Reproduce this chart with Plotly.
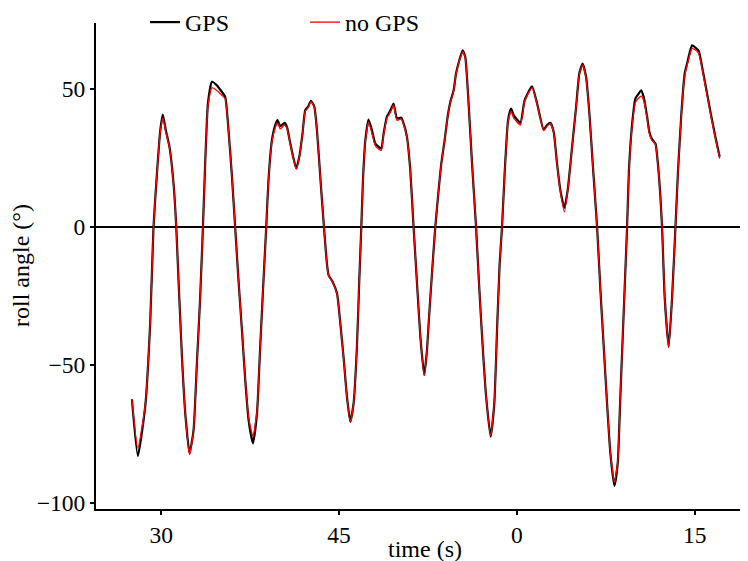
import plotly.graph_objects as go

# time (s), continuous; tick labels wrap at 60 s
time_s = [27.53, 28.03, 28.65, 29.07, 29.35, 29.64, 29.92, 30.14, 30.39, 30.70,
          31.04, 31.27, 31.46, 31.75, 32.03, 32.39, 32.73, 33.01, 33.29, 33.52,
          33.71, 33.94, 34.28, 34.70, 35.12, 35.40, 35.68, 35.97, 36.24, 36.52,
          36.81, 37.09, 37.37, 37.74, 38.08, 38.35, 38.63, 38.86, 39.05, 39.34,
          39.62, 39.81, 40.04, 40.41, 40.61, 40.89, 41.16, 41.39, 41.65, 41.92,
          42.15, 42.38, 42.63, 42.91, 43.14, 43.42, 43.73, 43.98, 44.12, 44.46,
          44.83, 45.11, 45.38, 45.67, 45.95, 46.23, 46.51, 46.71, 46.88, 47.02,
          47.22, 47.49, 47.78, 48.06, 48.34, 48.57, 48.76, 49.05, 49.27, 49.41,
          49.60, 49.89, 50.25, 50.45, 50.73, 51.01, 51.29, 51.58, 51.86, 52.19,
          52.42, 52.56, 52.84, 53.12, 53.35, 53.63, 53.91, 54.16, 54.39, 54.67,
          54.87, 55.15, 55.43, 55.65, 55.93, 56.22, 56.56, 56.84, 57.12, 57.41,
          57.79, 58.10, 58.33, 58.55, 58.75, 58.97, 59.26, 59.51, 59.73, 60.30,
          60.66, 61.28, 61.71, 62.26, 62.55, 62.83, 63.11, 63.39, 63.67, 64.01,
          64.29, 64.66, 65.00, 65.27, 65.55, 65.84, 66.12, 66.40, 66.77, 67.05,
          67.33, 67.61, 67.89, 68.23, 68.51, 68.73, 69.01, 69.30, 69.45, 69.73,
          70.00, 70.28, 70.48, 70.70, 70.99, 71.18, 71.41, 71.69, 71.97, 72.25,
          72.47, 72.81, 73.10, 73.38, 73.60, 73.88, 74.16, 74.36, 74.56, 74.78,
          75.06, 75.34, 75.68, 76.05, 76.41, 76.75, 77.11]

roll_gps = [-62.4, -83.0, -65.1, -34.9, 0.0, 19.4, 35.1, 40.8, 35.1, 29.1,
            15.8, 0.0, -19.2, -47.0, -67.5, -82.0, -73.6, -49.4, -25.2, 0.0,
            23.1, 44.8, 52.7, 51.4, 49.0, 47.2, 35.1, 18.2, 0.0, -19.2,
            -37.3, -55.4, -69.9, -78.4, -67.5, -43.4, -19.2, 0.0, 17.0, 31.5,
            37.0, 38.8, 36.6, 37.8, 36.3, 30.3, 24.9, 21.3, 25.5, 33.9,
            42.4, 43.6, 45.8, 43.8, 35.1, 18.2, 0.0, -13.2, -17.4, -19.8,
            -24.0, -34.9, -47.0, -61.5, -70.5, -63.9, -43.4, -19.2, 0.0, 17.0,
            31.5, 39.0, 35.1, 30.3, 29.1, 28.5, 33.9, 40.2, 41.8, 43.0,
            44.8, 39.4, 39.7, 37.6, 32.7, 20.7, 0.0, -20.4, -39.7, -53.6,
            -44.6, -34.9, -16.8, 0.0, 11.0, 23.1, 31.5, 40.0, 45.4, 49.6,
            55.7, 60.5, 64.1, 61.7, 44.8, 23.1, 0.0, -22.8, -43.4, -61.5,
            -76.0, -63.9, -37.3, -13.2, 0.0, 19.4, 38.8, 43.0, 40.6, 37.8,
            46.0, 51.0, 44.8, 35.4, 37.0, 37.8, 34.5, 23.1, 13.4, 7.0,
            13.4, 29.1, 43.6, 55.7, 59.3, 54.5, 41.2, 23.1, 0.0, -22.8,
            -43.4, -63.9, -82.0, -93.8, -85.6, -61.5, -31.3, 0.0, 20.0, 37.6,
            46.6, 48.4, 49.6, 47.2, 40.0, 34.5, 31.8, 30.3, 19.4, 0.0,
            -25.2, -43.4, -25.2, 0.0, 20.7, 41.2, 55.7, 59.3, 62.9, 65.9,
            65.1, 63.9, 56.9, 48.4, 40.0, 32.7, 25.5]

roll_no_gps = [-62.4, -80.2, -64.6, -34.9, 0.0, 19.2, 34.6, 39.6, 34.5, 28.7,
               15.6, 0.0, -19.2, -47.0, -67.8, -82.5, -73.8, -49.4, -25.2, 0.0,
               22.8, 43.8, 50.6, 49.5, 47.8, 46.5, 35.0, 18.2, 0.0, -19.2,
               -37.3, -55.0, -69.0, -76.0, -66.8, -43.4, -19.2, 0.0, 16.8, 31.0,
               36.0, 37.8, 35.6, 37.0, 35.8, 30.0, 24.7, 21.0, 25.3, 33.6,
               42.0, 43.2, 45.5, 43.5, 35.0, 18.2, 0.0, -13.4, -17.6, -20.0,
               -24.2, -35.0, -47.2, -61.8, -70.8, -64.0, -43.4, -19.2, 0.0, 16.8,
               31.0, 38.0, 34.0, 29.5, 28.3, 27.8, 33.4, 39.6, 41.2, 42.3,
               44.3, 38.7, 39.2, 37.2, 32.4, 20.6, 0.0, -20.4, -39.7, -53.8,
               -44.6, -34.9, -16.8, 0.0, 11.0, 23.0, 31.3, 39.8, 45.2, 49.3,
               55.5, 60.3, 63.6, 61.4, 44.6, 23.0, 0.0, -22.8, -43.4, -61.5,
               -75.6, -63.7, -37.3, -13.2, 0.0, 19.2, 38.3, 42.0, 39.6, 37.0,
               45.6, 50.6, 44.6, 35.0, 36.6, 37.5, 34.2, 22.8, 13.0, 5.5,
               13.0, 28.8, 43.4, 55.4, 58.8, 54.2, 41.0, 23.0, 0.0, -22.8,
               -43.4, -63.9, -81.8, -92.5, -85.0, -61.3, -31.3, 0.0, 19.6, 36.8,
               45.2, 46.8, 47.5, 46.0, 39.4, 34.0, 31.4, 30.0, 19.2, 0.0,
               -25.2, -43.6, -25.2, 0.0, 20.5, 40.8, 55.0, 58.6, 62.0, 64.8,
               64.2, 63.0, 56.3, 47.8, 39.5, 32.2, 24.8]

x_tickvals = [30, 45, 60, 75]
x_ticktext = ["30", "45", "0", "15"]
y_tickvals = [-100, -50, 0, 50]
y_ticktext = ["\u2212100", "\u221250", "0", "50"]

FONT = "Liberation Serif, Times New Roman, serif"

# The page body has an 8px margin, so figure coordinates = screen coordinates - 8.
OFF = 8
W, H = 748 - OFF, 561 - OFF
L, R, T, B = 96 - OFF, 0, 0, H - (509 - OFF)
PH = H - T - B          # paper height
PW = W - L - R          # paper width
AXIS_TOP = 23 - OFF     # y axis starts here (figure px)

def px_x(sx):
    return (sx - OFF - L) / PW

def px_y(sy):
    return (PH - (sy - OFF)) / PH

fig = go.Figure()
fig.add_trace(go.Scatter(x=time_s, y=roll_gps, mode="lines", name="GPS",
                         line=dict(color="black", width=2.2, shape="spline", smoothing=0.5)))
fig.add_trace(go.Scatter(x=time_s, y=roll_no_gps, mode="lines", name="no GPS",
                         line=dict(color="#ff0000", width=1.3, shape="spline", smoothing=0.5)))

fig.update_layout(
    width=W, height=H,
    margin=dict(l=L, r=R, t=T, b=B, autoexpand=False),
    paper_bgcolor="white", plot_bgcolor="white",
    font=dict(family=FONT, size=24, color="black"),
    showlegend=True,
    legend=dict(orientation="h", x=px_x(145), y=1.0 + 8 / PH,
                xanchor="left", yanchor="top",
                entrywidth=115, entrywidthmode="pixels",
                font=dict(family=FONT, size=24, color="black"),
                bgcolor="rgba(0,0,0,0)", itemwidth=30, borderwidth=0),
    xaxis=dict(range=[24.5, 79.5], tickmode="array", tickvals=x_tickvals,
               ticktext=x_ticktext, showgrid=False, zeroline=False,
               showline=True, linecolor="black", linewidth=2,
               ticks="outside", ticklen=4, tickwidth=2, tickcolor="black",
               automargin=False,
               tickfont=dict(family=FONT, size=23.5, color="black")),
    yaxis=dict(range=[-102.2, 74], domain=[0, (PH - AXIS_TOP) / PH],
               tickmode="array", tickvals=y_tickvals,
               ticktext=y_ticktext, showgrid=False,
               zeroline=True, zerolinecolor="black", zerolinewidth=2,
               showline=True, linecolor="black", linewidth=2,
               ticks="outside", ticklen=4, tickwidth=2, tickcolor="black",
               automargin=False,
               tickfont=dict(family=FONT, size=23.5, color="black")),
    annotations=[
        dict(text="time (s)", xref="paper", yref="paper", x=px_x(425),
             y=px_y(549), xanchor="center", yanchor="middle", showarrow=False,
             font=dict(family=FONT, size=24, color="black")),
        dict(text="roll angle (°)", xref="paper", yref="paper",
             x=px_x(21), y=px_y(266), xanchor="center", yanchor="middle",
             textangle=-90, showarrow=False,
             font=dict(family=FONT, size=24, color="black")),
    ],
)

fig.write_html("out.html")
